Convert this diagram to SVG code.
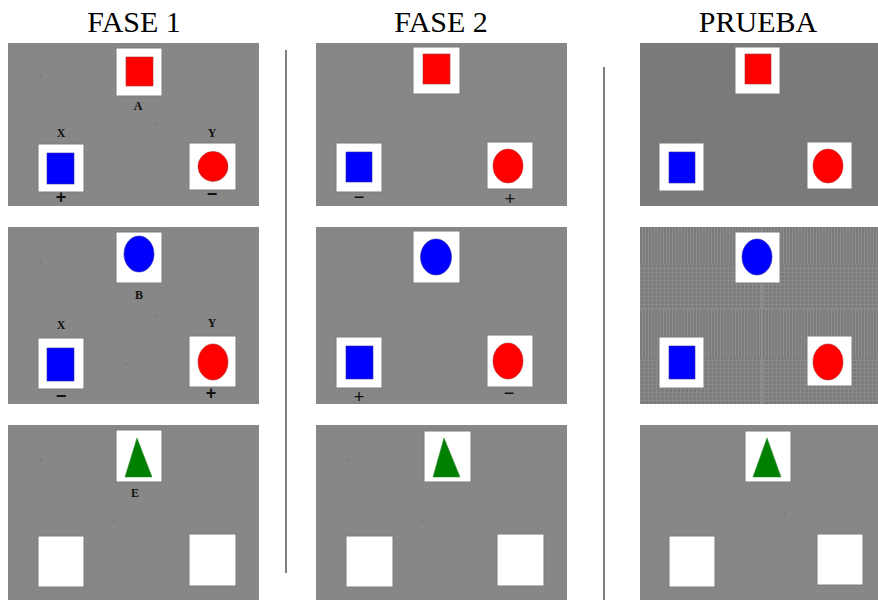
<svg xmlns="http://www.w3.org/2000/svg" width="878" height="600" viewBox="0 0 878 600">
<style>
.hdr{font-family:"Liberation Serif","Times New Roman",serif;font-size:30px;fill:#000;text-anchor:middle}
.lbl{font-family:"Liberation Serif","Times New Roman",serif;font-size:12px;font-weight:bold;fill:#111;text-anchor:middle}
.sgn{font-family:"Liberation Sans",Arial,sans-serif;font-size:18px;font-weight:bold;fill:#111;text-anchor:middle;dominant-baseline:central}
.sgn2{font-family:"Liberation Sans",Arial,sans-serif;font-size:18px;fill:#111;text-anchor:middle;dominant-baseline:central}
.bg{fill:#878787}
.bgd{fill:#7a7a7a}
.card{fill:#fff;stroke:#7d7d7d;stroke-width:1}
.red{fill:#ff0000;stroke:#b03030;stroke-width:0.6}
.blue{fill:#0000ff;stroke:#3030a0;stroke-width:0.6}
.green{fill:#008000;stroke:#3a8a3a;stroke-width:0.6}
.div{stroke:#555;stroke-width:1.5}
.dot{fill:#6e6e6e}
</style>
<defs>
<pattern id="vstripe" width="3" height="10" patternUnits="userSpaceOnUse">
<rect width="3" height="10" fill="#7c7c7c"/>
<rect x="0" width="1" height="10" fill="#8d8d8d"/>
</pattern>
<pattern id="grid" width="4" height="4" patternUnits="userSpaceOnUse">
<rect width="4" height="4" fill="#7c7c7c"/>
<rect x="0" width="1" height="4" fill="#8b8b8b"/>
<rect y="0" width="4" height="1" fill="#8b8b8b"/>
</pattern>
</defs>

<rect width="878" height="600" fill="#fff"/>

<g id="headers">
<text class="hdr" x="134" y="32">FASE 1</text>
<text class="hdr" x="441" y="32">FASE 2</text>
<text class="hdr" x="758" y="32">PRUEBA</text>
</g>

<g id="dividers">
<line class="div" x1="286" y1="50" x2="286" y2="573"/>
<line class="div" x1="604" y1="67" x2="604" y2="600"/>
</g>

<!-- FASE 1 -->
<g id="f1-top">
<rect class="bg" x="8" y="43" width="251" height="163"/>
<circle class="dot" cx="41" cy="75" r="0.8"/>
<circle class="dot" cx="157" cy="124" r="0.8"/>
<rect class="card" x="116" y="48" width="46" height="48"/>
<rect class="red" x="126" y="57" width="27" height="29"/>
<text class="lbl" x="138" y="110">A</text>
<text class="lbl" x="61" y="137">X</text>
<text class="lbl" x="212" y="137">Y</text>
<rect class="card" x="38" y="144" width="46" height="48"/>
<rect class="blue" x="47" y="153" width="27" height="31"/>
<rect class="card" x="189" y="143" width="47" height="47"/>
<ellipse class="red" cx="213" cy="166.5" rx="15" ry="15"/>
<text class="sgn" x="61" y="197">+</text>
<text class="sgn" x="212" y="194">−</text>
</g>

<g id="f1-mid">
<rect class="bg" x="8" y="227" width="251" height="177"/>
<circle class="dot" cx="41" cy="262" r="0.8"/>
<circle class="dot" cx="157" cy="316" r="0.8"/>
<circle class="dot" cx="126" cy="364" r="0.8"/>
<rect class="card" x="116" y="232" width="46" height="51"/>
<ellipse class="blue" cx="139" cy="254" rx="15" ry="18"/>
<text class="lbl" x="139" y="299">B</text>
<text class="lbl" x="61" y="329">X</text>
<text class="lbl" x="212" y="327">Y</text>
<rect class="card" x="38" y="338" width="46" height="51"/>
<rect class="blue" x="47" y="348" width="27" height="33"/>
<rect class="card" x="189" y="336" width="47" height="51"/>
<ellipse class="red" cx="213" cy="362" rx="15" ry="18"/>
<text class="sgn" x="61" y="396">−</text>
<text class="sgn" x="211" y="393">+</text>
</g>

<g id="f1-bot">
<rect class="bg" x="8" y="425" width="251" height="175"/>
<circle class="dot" cx="41" cy="460" r="0.8"/>
<circle class="dot" cx="114" cy="521" r="0.8"/>
<rect class="card" x="116" y="430" width="46" height="52"/>
<polygon class="green" points="137,438 152,477 125,477"/>
<text class="lbl" x="135" y="497">E</text>
<rect class="card" x="38" y="536" width="46" height="51"/>
<rect class="card" x="189" y="534" width="47" height="52"/>
</g>

<!-- FASE 2 -->
<g id="f2-top">
<rect class="bg" x="316" y="43" width="251" height="163"/>
<rect class="card" x="413" y="47" width="47" height="47"/>
<rect class="red" x="423" y="54" width="27" height="30"/>
<rect class="card" x="336" y="143" width="46" height="49"/>
<rect class="blue" x="346" y="152" width="26" height="30"/>
<rect class="card" x="487" y="142" width="46" height="47"/>
<ellipse class="red" cx="508" cy="166" rx="15" ry="17"/>
<text class="sgn2" x="359" y="197">−</text>
<text class="sgn2" x="510" y="199">+</text>
</g>

<g id="f2-mid">
<rect class="bg" x="316" y="227" width="251" height="177"/>
<rect class="card" x="413" y="231" width="47" height="52"/>
<ellipse class="blue" cx="436" cy="257" rx="15.5" ry="18"/>
<rect class="card" x="336" y="337" width="46" height="51"/>
<rect class="blue" x="346" y="346" width="27" height="33"/>
<rect class="card" x="487" y="335" width="46" height="52"/>
<ellipse class="red" cx="508" cy="361" rx="15" ry="18"/>
<text class="sgn2" x="359" y="397">+</text>
<text class="sgn2" x="509" y="393">−</text>
</g>

<g id="f2-bot">
<rect class="bg" x="316" y="425" width="251" height="175"/>
<circle class="dot" cx="349" cy="460" r="0.8"/>
<circle class="dot" cx="464" cy="514" r="0.8"/>
<circle class="dot" cx="422" cy="521" r="0.8"/>
<rect class="card" x="424" y="431" width="47" height="51"/>
<polygon class="green" points="444,438 460,477 433,477"/>
<rect class="card" x="346" y="536" width="47" height="51"/>
<rect class="card" x="497" y="534" width="47" height="52"/>
</g>

<!-- PRUEBA -->
<g id="p-top">
<rect class="bgd" x="640" y="43" width="238" height="163"/>
<rect class="card" x="735" y="47" width="45" height="47"/>
<rect class="red" x="745" y="54" width="26" height="30"/>
<rect class="card" x="659" y="143" width="45" height="48"/>
<rect class="blue" x="669" y="152" width="26" height="31"/>
<rect class="card" x="807" y="142" width="45" height="47"/>
<ellipse class="red" cx="828" cy="166" rx="15" ry="17"/>
</g>

<g id="p-mid">
<rect fill="url(#vstripe)" x="640" y="227" width="238" height="38"/>
<rect fill="url(#grid)" x="640" y="265" width="238" height="43"/>
<rect fill="url(#vstripe)" x="640" y="308" width="238" height="50"/>
<rect fill="url(#grid)" x="640" y="358" width="238" height="46"/>
<rect fill="#8e8e8e" x="640" y="308" width="238" height="1.5"/>
<rect fill="#8e8e8e" x="761" y="227" width="2" height="177"/>
<rect class="card" x="735" y="232" width="45" height="51"/>
<ellipse class="blue" cx="757" cy="257" rx="15" ry="18"/>
<rect class="card" x="659" y="337" width="45" height="51"/>
<rect class="blue" x="669" y="346" width="26" height="33"/>
<rect class="card" x="807" y="336" width="45" height="50"/>
<ellipse class="red" cx="828" cy="362" rx="15" ry="18"/>
</g>

<g id="p-bot">
<rect class="bg" x="640" y="425" width="238" height="175"/>
<circle class="dot" cx="672" cy="460" r="0.8"/>
<circle class="dot" cx="785" cy="514" r="0.8"/>
<circle class="dot" cx="744" cy="521" r="0.8"/>
<rect class="card" x="745" y="431" width="46" height="51"/>
<polygon class="green" points="767,438 781,477 753,477"/>
<rect class="card" x="669" y="536" width="46" height="51"/>
<rect class="card" x="817" y="534" width="46" height="51"/>
</g>
</svg>
